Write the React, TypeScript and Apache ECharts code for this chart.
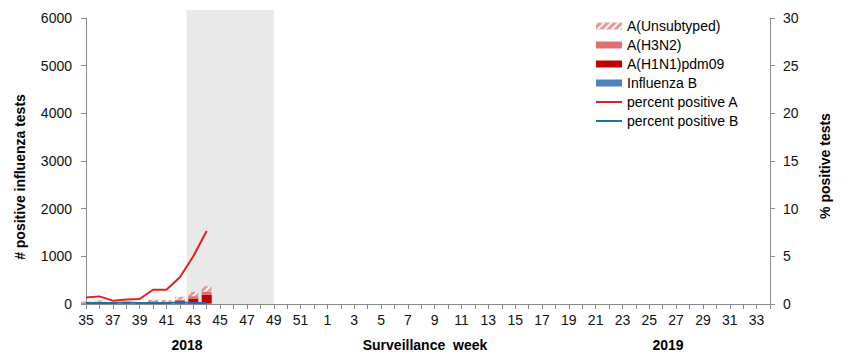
import React, { useEffect, useRef } from "react";
import * as echarts from "echarts";

const weeks2018 = [35, 36, 37, 38, 39, 40, 41, 42, 43, 44, 45, 46, 47, 48, 49, 50, 51, 52];
const weeks2019 = Array.from({ length: 34 }, (_, i) => i + 1);
const categories = [...weeks2018, ...weeks2019].map(String);

// stacked counts, weeks 35..44
const unsubtyped = [20, 30, 15, 15, 15, 30, 40, 60, 90, 120];
const h3n2 = [20, 30, 15, 10, 10, 25, 20, 30, 50, 60];
const h1n1 = [5, 5, 5, 5, 5, 20, 10, 40, 100, 180];
const fluB = [10, 10, 10, 15, 10, 15, 15, 20, 15, 15];
const pctA = [0.68, 0.8, 0.35, 0.47, 0.52, 1.5, 1.5, 2.8, 5.0, 7.66];
const pctB = [0.1, 0.1, 0.1, 0.15, 0.1, 0.1, 0.1, 0.15, 0.1, 0.1];

// shaded period: from week 43 (half a week before) to week 49
const bandStart = "43";
const bandEnd = "49";

const FONT = "'Liberation Sans', Arial, sans-serif";
const LINE_ICON = "path://M0,0h26v2h-26z";
const RED_LINE = "#E0201E";
const BLUE_LINE = "#1F6FA6";

export default function App() {
  const ref = useRef<HTMLDivElement>(null);
  useEffect(() => {
    if (!ref.current) return;
    const chart = echarts.init(ref.current, null, { renderer: "svg" });
    const startIdx = categories.indexOf(bandStart);
    const endIdx = categories.indexOf(bandEnd);
    const axisColor = "#898989";
    chart.setOption({
      animation: false,
      textStyle: { fontFamily: FONT },
      grid: { left: 86, right: 79, top: 18, bottom: 58 },
      legend: {
        orient: "vertical",
        left: 591,
        top: 14,
        itemWidth: 26,
        itemHeight: 7,
        itemGap: 5,
        symbolKeepAspect: true,
        textStyle: { fontSize: 14, color: "#000", fontFamily: FONT },
        data: [
          { name: "A(Unsubtyped)", icon: "rect" },
          { name: "A(H3N2)", icon: "rect" },
          { name: "A(H1N1)pdm09", icon: "rect" },
          { name: "Influenza B", icon: "rect" },
          { name: "percent positive A", icon: LINE_ICON, itemStyle: { color: RED_LINE } },
          { name: "percent positive B", icon: LINE_ICON, itemStyle: { color: BLUE_LINE } },
        ],
      },
      xAxis: {
        type: "category",
        data: categories,
        boundaryGap: false,
        axisLine: { lineStyle: { color: axisColor } },
        axisTick: { interval: 0, length: 5, lineStyle: { color: axisColor } },
        axisLabel: { interval: 1, fontSize: 14, color: "#111", margin: 9, fontFamily: FONT },
      },
      yAxis: [
        {
          type: "value",
          min: 0,
          max: 6000,
          interval: 1000,
          splitLine: { show: false },
          axisLine: { show: true, lineStyle: { color: axisColor } },
          axisTick: { show: true, length: 5, lineStyle: { color: axisColor } },
          axisLabel: {
            fontSize: 14,
            color: "#111",
            margin: 14,
            fontFamily: FONT,
            formatter: (v: number) => String(v),
          },
        },
        {
          type: "value",
          min: 0,
          max: 30,
          interval: 5,
          position: "right",
          splitLine: { show: false },
          axisLine: { show: true, lineStyle: { color: axisColor } },
          axisTick: { show: true, length: 5, lineStyle: { color: axisColor } },
          axisLabel: { fontSize: 14, color: "#111", margin: 13, fontFamily: FONT },
        },
      ],
      graphic: [
        {
          type: "text",
          x: 20,
          y: 177,
          rotation: Math.PI / 2,
          style: {
            text: "# positive influenza tests",
            font: `bold 14px ${FONT}`,
            fill: "#000",
            align: "center",
            verticalAlign: "middle",
          },
        },
        {
          type: "text",
          x: 825,
          y: 166,
          rotation: Math.PI / 2,
          style: {
            text: "% positive tests",
            font: `bold 14px ${FONT}`,
            fill: "#000",
            align: "center",
            verticalAlign: "middle",
          },
        },
        {
          type: "text",
          x: 187,
          y: 345,
          style: { text: "2018", font: `bold 14px ${FONT}`, fill: "#000", align: "center", verticalAlign: "middle" },
        },
        {
          type: "text",
          x: 425,
          y: 345,
          style: { text: "Surveillance  week", font: `bold 14px ${FONT}`, fill: "#000", align: "center", verticalAlign: "middle" },
        },
        {
          type: "text",
          x: 668,
          y: 345,
          style: { text: "2019", font: `bold 14px ${FONT}`, fill: "#000", align: "center", verticalAlign: "middle" },
        },
      ],
      series: [
        {
          type: "custom",
          name: "band",
          silent: true,
          clip: false,
          z: 0,
          data: [[startIdx, endIdx]],
          encode: { x: [0, 1] },
          renderItem: (params: any, api: any) => {
            const a = api.coord([api.value(0), 0]);
            const b = api.coord([api.value(1), 0]);
            const n = api.coord([api.value(0) + 1, 0]);
            const step = n[0] - a[0];
            const cs = params.coordSys;
            const x0 = a[0] - step / 2;
            const top = cs.y - 8;
            return {
              type: "rect",
              shape: { x: x0, y: top, width: b[0] - x0, height: cs.y + cs.height - top },
              style: { fill: "#E9E9E9" },
            };
          },
        },
        {
          name: "Influenza B",
          type: "bar",
          stack: "flu",
          barWidth: 10,
          z: 3,
          itemStyle: { color: "#4F81BD" },
          data: fluB,
        },
        {
          name: "A(H1N1)pdm09",
          type: "bar",
          stack: "flu",
          barWidth: 10,
          z: 3,
          itemStyle: { color: "#C00000" },
          data: h1n1,
        },
        {
          name: "A(H3N2)",
          type: "bar",
          stack: "flu",
          barWidth: 10,
          z: 3,
          itemStyle: { color: "#E07070" },
          data: h3n2,
        },
        {
          name: "A(Unsubtyped)",
          type: "bar",
          stack: "flu",
          barWidth: 10,
          z: 3,
          itemStyle: {
            color: "#DE9C9C",
            decal: {
              symbol: "rect",
              color: "rgba(255,255,255,0.9)",
              dashArrayX: [1, 0],
              dashArrayY: [2, 3],
              rotation: -Math.PI / 4,
            },
          },
          data: unsubtyped,
        },
        {
          name: "percent positive A",
          type: "line",
          yAxisIndex: 1,
          symbol: "none",
          z: 4,
          lineStyle: { color: RED_LINE, width: 2 },
          itemStyle: { color: RED_LINE },
          data: pctA,
        },
        {
          name: "percent positive B",
          type: "line",
          yAxisIndex: 1,
          symbol: "none",
          z: 4,
          lineStyle: { color: BLUE_LINE, width: 2 },
          itemStyle: { color: BLUE_LINE },
          data: pctB,
        },
      ],
    });
    return () => chart.dispose();
  }, []);
  return <div ref={ref} style={{ position: "fixed", left: 0, top: 0, width: 849, height: 362, background: "#fff" }} />;
}
